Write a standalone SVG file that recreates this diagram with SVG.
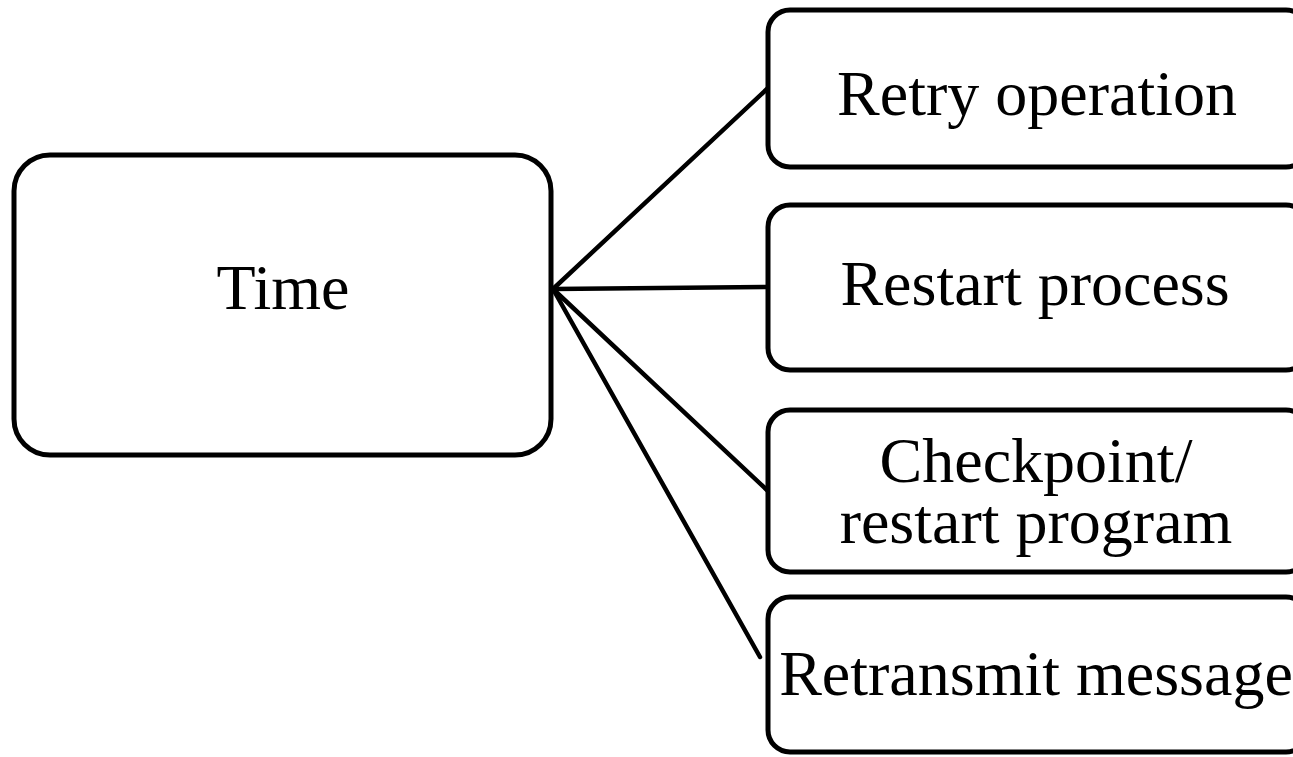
<svg xmlns="http://www.w3.org/2000/svg" width="1293" height="757" viewBox="0 0 1293 757">
  <style>
    .box { fill: #ffffff; stroke: #000000; stroke-width: 5; }
    .link { stroke: #000000; stroke-width: 4.5; fill: none; stroke-linecap: round; }
    .label { font-family: "Liberation Serif", "Times New Roman", serif; font-size: 64px; fill: #000000; text-anchor: middle; }
  </style>
  <rect width="1293" height="757" fill="#ffffff"/>

  <!-- connectors fanning out from the root node -->
  <g id="connectors">
    <line class="link" x1="553" y1="289" x2="768" y2="88"/>
    <line class="link" x1="553" y1="289" x2="768" y2="287"/>
    <line class="link" x1="553" y1="289" x2="768" y2="491"/>
    <line class="link" x1="553" y1="289" x2="760" y2="657"/>
  </g>

  <g id="node-time">
    <rect class="box" x="14" y="155" width="537" height="300" rx="36" ry="36"/>
    <text class="label" x="283" y="309">Time</text>
  </g>

  <g id="node-retry">
    <rect class="box" x="768" y="10" width="540" height="157" rx="22" ry="22"/>
    <text class="label" x="1037" y="115">Retry operation</text>
  </g>

  <g id="node-restart">
    <rect class="box" x="768" y="205" width="540" height="165" rx="22" ry="22"/>
    <text class="label" x="1035" y="305">Restart process</text>
  </g>

  <g id="node-checkpoint">
    <rect class="box" x="768" y="410" width="540" height="162" rx="22" ry="22"/>
    <text class="label" x="1036" y="482">Checkpoint/</text>
    <text class="label" x="1036" y="543">restart program</text>
  </g>

  <g id="node-retransmit">
    <rect class="box" x="768" y="597" width="540" height="155" rx="22" ry="22"/>
    <text class="label" x="1036" y="695">Retransmit message</text>
  </g>
</svg>
